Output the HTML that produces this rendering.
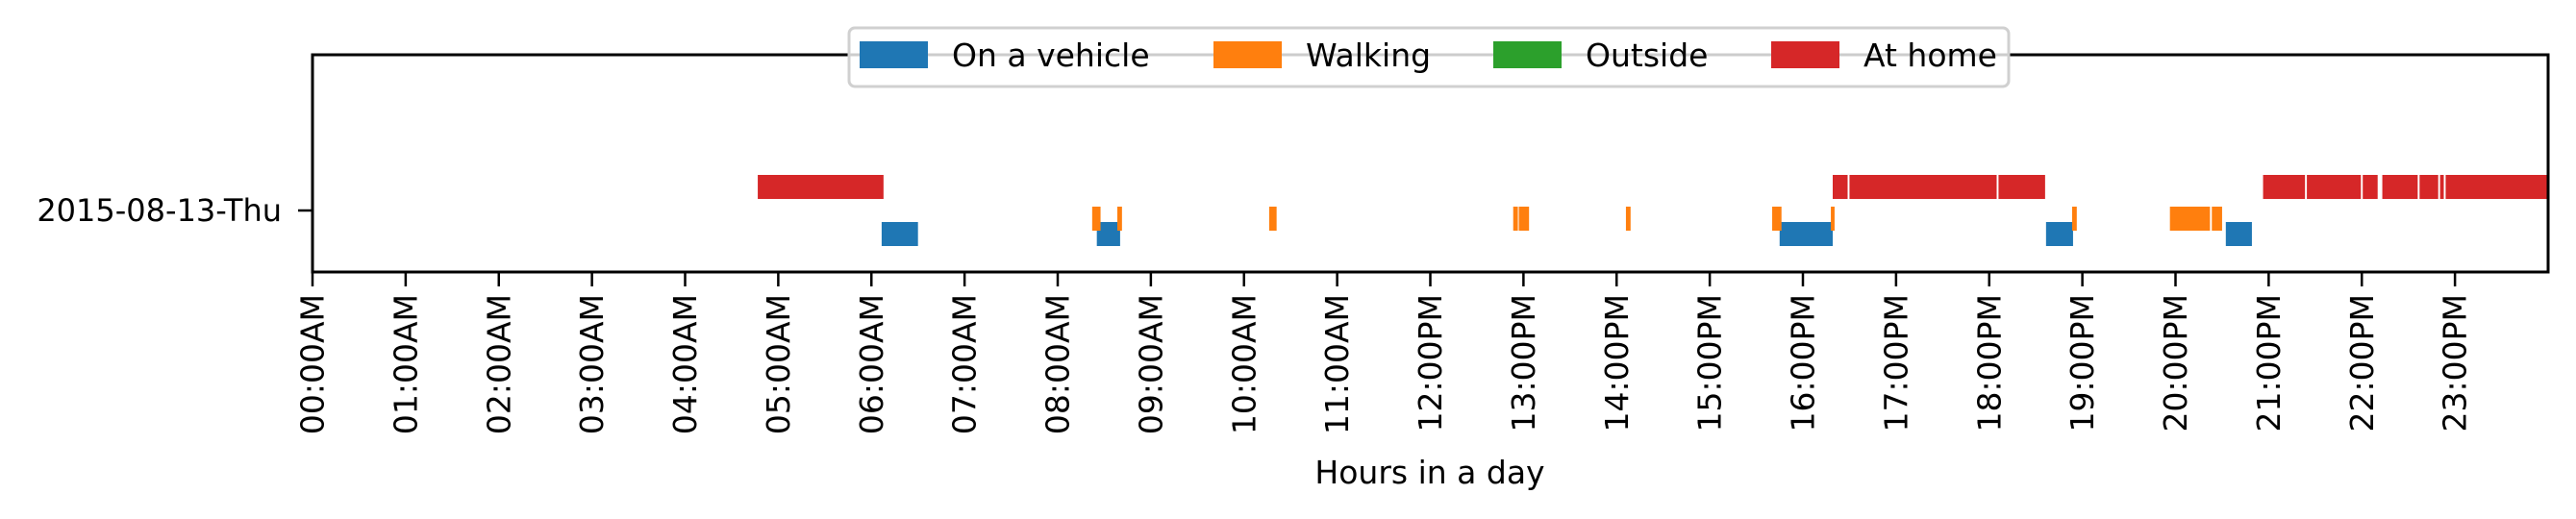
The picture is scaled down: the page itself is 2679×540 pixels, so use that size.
<!DOCTYPE html>
<html><head><meta charset="utf-8"><style>
html,body{margin:0;padding:0;background:#fff;}
svg{display:block;font-family:"DejaVu Sans","Liberation Sans",sans-serif;}
</style></head><body>
<svg id="chart" width="2679" height="540" viewBox="0 0 2679 540" xmlns="http://www.w3.org/2000/svg">
<g id="bars"></g>
<g id="axes"></g>
<g id="legend"></g>
</svg>
<script>
const hourTicks = [0,1,2,3,4,5,6,7,8,9,10,11,12,13,14,15,16,17,18,19,20,21,22,23];
const tickLabels = ["00:00AM","01:00AM","02:00AM","03:00AM","04:00AM","05:00AM","06:00AM","07:00AM","08:00AM","09:00AM","10:00AM","11:00AM","12:00PM","13:00PM","14:00PM","15:00PM","16:00PM","17:00PM","18:00PM","19:00PM","20:00PM","21:00PM","22:00PM","23:00PM"];
const dayLabel = "2015-08-13-Thu";
const categories = ["On a vehicle","Walking","Outside","At home"];
const vehicleSegments = [[6.11,6.50],[8.42,8.67],[15.75,16.32],[18.61,18.90],[20.54,20.82]];
const walkingSegments = [[8.37,8.46],[8.64,8.69],[10.27,10.35],[12.89,12.94],[12.95,13.06],[14.10,14.15],[15.67,15.77],[16.30,16.34],[18.89,18.94],[19.94,20.37],[20.39,20.50]];
const outsideSegments = [];
const homeSegments = [[4.78,6.13],[16.32,16.48],[16.50,18.08],[18.10,18.60],[20.94,21.39],[21.41,21.99],[22.01,22.17],[22.22,22.60],[22.62,22.82],[22.84,22.88],[22.90,24.0]];

const NS="http://www.w3.org/2000/svg";
const L=325,R=2650,T=57,B=283,xMax=24;
const colors=["#1f77b4","#ff7f0e","#2ca02c","#d62728"];
const rowTop=[231,215,219,182], rowH=25;
function x(h){return L+(h/xMax)*(R-L);}
function mk(tag,attrs,parent){const e=document.createElementNS(NS,tag);for(const k in attrs)e.setAttribute(k,attrs[k]);parent.appendChild(e);return e;}

const bars=document.getElementById('bars');
const series=[vehicleSegments,walkingSegments,outsideSegments,homeSegments];
series.forEach((segs,ci)=>{
  segs.forEach(s=>{
    const r=mk('rect',{x:x(s[0]),y:rowTop[ci],width:Math.max(1,x(s[1])-x(s[0])),height:rowH,fill:colors[ci]},bars);
    
    
  });
});

const axes=document.getElementById('axes');
const frame=mk('rect',{x:L,y:T,width:R-L,height:B-T,fill:'none',stroke:'#000','stroke-width':3},axes);


hourTicks.forEach((h,i)=>{
  const t=mk('line',{x1:x(h),x2:x(h),y1:B,y2:B+15,stroke:'#000','stroke-width':2.5},axes);
  
  
  const lb=mk('text',{x:x(h),y:306,'font-size':33,'text-anchor':'end','dominant-baseline':'central',transform:`rotate(-90 ${x(h)} 306)`},axes);
  lb.textContent=tickLabels[i];
  
  
});
const yt=mk('line',{x1:L-15,x2:L,y1:219,y2:219,stroke:'#000','stroke-width':2.5},axes);


const yl=mk('text',{x:293,y:219,'font-size':32,'text-anchor':'end','dominant-baseline':'central'},axes);
yl.textContent=dayLabel;


const xt=mk('text',{x:1487,y:503,'font-size':33,'text-anchor':'middle'},axes);
xt.textContent="Hours in a day";



const lg=document.getElementById('legend');
const box=mk('rect',{x:883,y:29,width:1206,height:61,rx:6,fill:'rgba(255,255,255,0.8)',stroke:'#d0d0d0','stroke-width':3},lg);


const patchX=[894,1262,1553,1842];
categories.forEach((c,i)=>{
  const p=mk('rect',{x:patchX[i],y:43,width:71,height:28,fill:colors[i]},lg);
  
  
  const t=mk('text',{x:patchX[i]+96,y:69,'font-size':33},lg);
  t.textContent=c;
  
  
});
</script>
</body></html>
